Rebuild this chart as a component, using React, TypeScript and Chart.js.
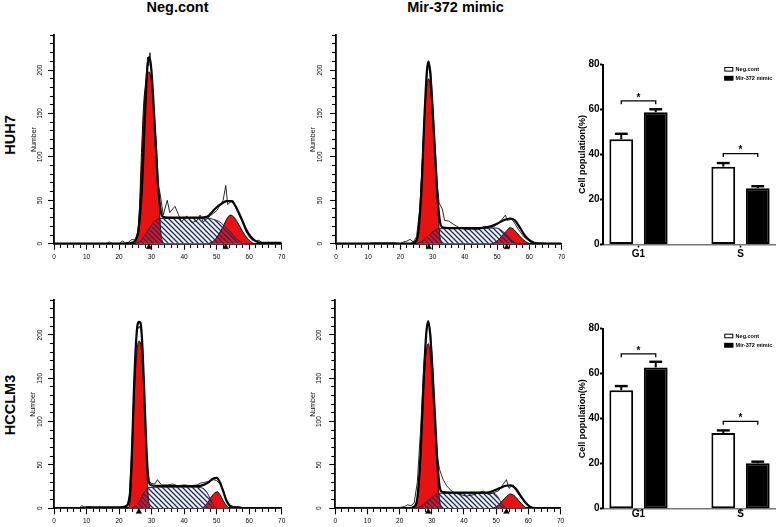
import React, { useEffect, useRef } from 'react';
import { Chart, registerables } from 'chart.js';

Chart.register(...registerables);
Chart.defaults.font.family = 'Arial, "Liberation Sans", sans-serif';

type Pt = [number, number];

// ---------- Flow cytometry histograms (x: DNA content channel, y: Number) ----------
const HIST_X_LABELS = [0, 10, 20, 30, 40, 50, 60, 70];
const HIST_Y_LABELS = [0, 50, 100, 150, 200];

// HUH7 - Neg.cont
const HUH7_NEG_RAW: Pt[] = [[8,0],[16,0],[17,2],[18,0],[20,0],[21,3],[22,1],[23,2],[24,5],[25,4],[25.8,15],[26.6,55],[27.4,120],[28.2,185],[28.8,215],[29.1,205],[29.5,220],[30,200],[30.6,160],[31.2,110],[31.8,72],[32.6,58],[33.6,33],[34.8,50],[35.6,36],[37.2,43],[38.2,34],[39.2,25],[40.8,32],[42.4,24],[44,27],[44.9,33],[45.9,25],[48,32],[50,38],[52,50],[52.8,67],[53.4,45],[54.2,48],[55,50],[56,40],[57,32],[58,24],[59,14],[60,8],[61,4],[62,3],[63,4],[64,1],[66,0],[70,0]];
const HUH7_NEG_FIT: Pt[] = [[0,0],[22,0],[24,1],[25,4],[26,16],[27,62],[28,150],[28.6,198],[29.2,215],[29.8,205],[30.5,168],[31.3,112],[32,66],[32.8,38],[33.5,31],[35,30],[40,30],[45,30],[47,31],[48.5,36],[50,42],[51.5,46],[53,49],[54.5,49],[56,42],[57.5,30],[59,17],[60.5,8],[62,3],[64,1],[70,1]];
const HUH7_NEG_G1: Pt[] = [[24.6,0],[25.3,4],[26.1,28],[26.9,105],[27.6,162],[28.4,190],[29.2,198],[30,184],[30.8,148],[31.6,105],[32.3,50],[32.8,15],[33.3,3],[34,0]];
const HUH7_NEG_S: Pt[] = [[25,0],[26.5,3],[28,10],[29.5,19],[31,26],[32.5,29],[40,29.5],[47,29.5],[49,28],[51,25],[53,18],[55,10],[56.5,4],[58,0]];
const HUH7_NEG_G2: Pt[] = [[47.5,0],[49,3],[50.5,10],[52,20],[53.2,29],[54.2,33],[55.2,31],[56.5,24],[58,14],[59.5,6],[61,1],[62,0]];
const HUH7_NEG_MARKS = [29.2, 52.8];

// HUH7 - Mir-372 mimic
const HUH7_MIMIC_RAW: Pt[] = [[10,0],[11,1],[15,1],[18,1],[20,0],[21,2],[22,3],[23,5],[24,2],[25,8],[26,40],[27,110],[28,185],[28.8,210],[29.4,200],[30,160],[30.8,110],[31.5,65],[32,47],[33,40],[33.7,27],[35,26],[36.6,22],[38,19],[40.6,16],[42,17],[44,16],[46,20],[48.7,19],[50.9,25],[52.6,33],[53.1,27],[54.6,28],[55.2,25],[56.7,16],[58.3,8],[60.3,2],[62,1],[64,1],[66,0],[70,0]];
const HUH7_MIMIC_FIT: Pt[] = [[0,0],[23,0],[24.5,2],[25.5,12],[26.5,60],[27.5,150],[28.2,198],[28.7,210],[29.3,195],[30,155],[30.8,100],[31.6,50],[32.3,25],[33,19],[35,18],[40,18],[45,18],[48,20],[50,23],[52,27],[54,29],[55.5,27],[57,19],[58.5,10],[60,4],[61.5,1],[63,0],[70,0]];
const HUH7_MIMIC_G1: Pt[] = [[24.3,0],[25,3],[25.8,25],[26.6,80],[27.5,150],[28.2,182],[28.7,190],[29.3,180],[30,145],[30.8,95],[31.6,40],[32.2,10],[32.8,0]];
const HUH7_MIMIC_S: Pt[] = [[25,0],[26.5,2],[28,7],[29.5,12],[31,16],[32.3,17.5],[40,18],[50,18],[51.5,15],[53,10],[54.5,4],[56,0]];
const HUH7_MIMIC_G2: Pt[] = [[48.5,0],[50,3],[51.5,9],[53,15],[54,18.5],[55,17],[56.5,11],[58,5],[59.5,1],[60.5,0]];
const HUH7_MIMIC_MARKS = [28.8, 53];

// HCCLM3 - Neg.cont
const HCCLM3_NEG_RAW: Pt[] = [[7,0],[8,1],[8.5,3],[9.5,1],[11,2],[12,1],[15,0],[18,1],[20,1],[21.5,2],[22.5,4],[23.2,15],[24,75],[24.8,160],[25.5,205],[26.2,210],[26.8,205],[27.4,165],[28,105],[28.6,50],[29.2,32],[29.8,29],[31,28],[31.8,33],[33,27],[35,27],[36.5,28],[38,26],[40,27],[42,26],[44,27],[45,29],[46.4,30],[47.5,31],[49,33],[50,32],[51,28],[52,20],[53,10],[54,4],[55,2],[57,1],[60,0],[70,0]];
const HCCLM3_NEG_FIT: Pt[] = [[0,0],[8,0],[10,1],[20,1],[22,2],[22.8,5],[23.4,20],[24,70],[24.6,140],[25.2,190],[25.7,212],[26.2,215],[26.7,212],[27.2,185],[27.8,130],[28.4,70],[29,35],[29.6,27],[31,26],[35,25.5],[40,25.5],[44,25.5],[46,27],[47.5,30],[49,34.5],[50,35],[51,30],[52,20],[53,9],[54,3],[55,1.5],[57,1],[58,0],[70,0]];
const HCCLM3_NEG_G1: Pt[] = [[22.6,0],[23.2,4],[23.8,30],[24.4,102],[25,155],[25.6,185],[26.2,193],[26.8,185],[27.4,150],[28,102],[28.6,40],[29,12],[29.5,0]];
const HCCLM3_NEG_S: Pt[] = [[24,0],[25,2],[26,6],[27,13],[28,20],[29,24],[35,24.5],[42,24.5],[45,24],[46.5,21],[47.5,15],[48.5,7],[49.5,1],[50,0]];
const HCCLM3_NEG_G2: Pt[] = [[45.5,0],[46.5,3],[47.5,8],[48.5,14],[49.5,18],[50.2,19],[51,16],[52,9],[53,3],[54,0]];
const HCCLM3_NEG_MARKS = [26.1];

// HCCLM3 - Mir-372 mimic
const HCCLM3_MIMIC_RAW: Pt[] = [[7,0],[8,1],[12,1],[16,1],[20,1],[21.5,2],[22.5,4],[23.5,3],[24.5,6],[25.5,30],[26.5,90],[27.5,165],[28.4,205],[29,215],[29.6,205],[30.3,160],[31,100],[31.7,60],[32.4,45],[33.4,34],[34.6,26],[36.1,20],[37.7,17],[40.8,14],[43.4,16],[46,20],[47.6,16],[50.7,20],[53.2,33],[54,23],[55.3,27],[56.8,17],[58.4,9],[60.5,2],[62,1],[65,0],[70,0]];
const HCCLM3_MIMIC_FIT: Pt[] = [[0,0],[23,0],[24.5,2],[25.5,12],[26.5,62],[27.5,150],[28.3,203],[28.9,216],[29.5,200],[30.2,160],[31,105],[31.8,50],[32.5,24],[33.2,19],[36,18],[42,18],[47,18],[49,20],[51,23],[53,26],[54.5,26.5],[56,23],[57.5,15],[59,7],[60.5,2],[62,0],[70,0]];
const HCCLM3_MIMIC_G1: Pt[] = [[24.5,0],[25.2,4],[26,28],[26.8,85],[27.6,150],[28.3,182],[28.9,190],[29.5,178],[30.2,140],[31,90],[31.8,38],[32.4,10],[33,0]];
const HCCLM3_MIMIC_S: Pt[] = [[25,0],[26.5,2],[28,6],[29.5,11],[31,15],[32.5,17.3],[40,17.5],[49,17.5],[50.2,15],[51.2,9],[52.2,3],[53,0]];
const HCCLM3_MIMIC_G2: Pt[] = [[49,0],[50.5,3],[52,9],[53.3,14],[54.5,16.5],[55.5,15],[57,9],[58.5,3],[59.5,0]];
const HCCLM3_MIMIC_MARKS = [28.9, 53.2];

// ---------- Bar charts (cell population %) ----------
const PHASES = ['G1', 'S'];
const GROUPS = ['Neg.cont', 'Mir-372 mimic'];
const BAR_Y_LABELS = [0, 20, 40, 60, 80];
const HUH7_NEG_PCT = [46.8, 34.6];
const HUH7_NEG_SEM = [2.4, 1.6];
const HUH7_MIMIC_PCT = [58.8, 25.0];
const HUH7_MIMIC_SEM = [1.3, 0.9];
const HUH7_SIG_AT = [63.8, 40.4];
const HCCLM3_NEG_PCT = [52.7, 33.6];
const HCCLM3_NEG_SEM = [1.8, 1.2];
const HCCLM3_MIMIC_PCT = [62.8, 20.2];
const HCCLM3_MIMIC_SEM = [2.5, 0.7];
const HCCLM3_SIG_AT = [68.8, 38.8];

// ---------- styling ----------
const RED = '#e81212';
const S_BG = '#f1f5fb';
const Y_AXIS_W = 34;
const BAR_Y_W = 33;

function makeHatch(): any {
  const c = document.createElement('canvas');
  c.width = 5;
  c.height = 5;
  const g = c.getContext('2d');
  if (!g) return '#9aa';
  g.strokeStyle = '#1d2a66';
  g.lineWidth = 1.25;
  g.beginPath();
  g.moveTo(-1, -1); g.lineTo(6, 6);
  g.moveTo(-1, 4); g.lineTo(1, 6);
  g.moveTo(4, -1); g.lineTo(6, 1);
  g.stroke();
  return g.createPattern(c, 'repeat');
}

function Histogram(props: any) {
  const { box, area, raw, fit, g1, s, g2, marks, numberX, labelPad } = props;
  const ref = useRef<HTMLCanvasElement>(null);
  useEffect(() => {
    const canvas = ref.current;
    if (!canvas) return;
    const hatch = makeHatch();
    const xy = (a: Pt[]) => a.map(([x, y]) => ({ x, y }));
    const smooth = { pointRadius: 0, cubicInterpolationMode: 'monotone' };
    const scaleLeft = area.left - Y_AXIS_W;
    const isMinorY = (c: any) => !(c.tick && c.tick.value % 50 === 0);
    const isMinorX = (c: any) => !(c.tick && HIST_X_LABELS.includes(c.tick.value));
    const chart = new Chart(canvas, {
      type: 'line',
      data: {
        datasets: [
          { label: 'S phase', data: xy(s), fill: 'origin', backgroundColor: S_BG, borderColor: 'rgba(0,0,0,0)', borderWidth: 0, order: 7, ...smooth },
          { label: 'G0/G1', data: xy(g1), fill: 'origin', backgroundColor: RED, borderColor: '#220000', borderWidth: 1, order: 6, ...smooth },
          { label: 'G2/M', data: xy(g2), fill: 'origin', backgroundColor: RED, borderColor: '#220000', borderWidth: 1, order: 5, ...smooth },
          { label: 'S phase hatch', data: xy(s), fill: 'origin', backgroundColor: hatch, borderColor: '#1b2452', borderWidth: 1, order: 4, ...smooth },
          { label: 'Model', data: xy(fit), fill: false, borderColor: '#000', borderWidth: 2.2, order: 3, ...smooth },
          { label: 'Data', data: xy(raw), fill: false, borderColor: '#111', borderWidth: 0.9, tension: 0, pointRadius: 0, order: 2 },
          { label: 'Peak', data: marks.map((x: number) => ({ x, y: -4 })), showLine: false, pointStyle: 'triangle', pointRadius: 3.2, pointHoverRadius: 4, backgroundColor: '#000', borderColor: '#000', pointBorderWidth: 0.5, clip: false, order: 1 },
        ],
      } as any,
      options: {
        responsive: false,
        animation: false,
        events: [],
        layout: {
          padding: {
            left: scaleLeft - box.left,
            top: area.top - box.top,
            right: box.left + box.width - area.right,
            bottom: 0,
          },
        },
        plugins: { legend: { display: false }, tooltip: { enabled: false } },
        scales: {
          x: {
            type: 'linear',
            min: 0,
            max: 70,
            afterFit: (sc: any) => { sc.height = box.top + box.height - area.bottom; },
            ticks: {
              stepSize: 2,
              autoSkip: false,
              maxRotation: 0,
              minRotation: 0,
              padding: 3.5,
              color: '#000',
              font: { size: 6.5 },
              callback: (v: any) => (HIST_X_LABELS.includes(v) ? String(v) : ''),
            },
            grid: {
              display: true,
              drawOnChartArea: false,
              drawTicks: true,
              tickLength: 6,
              tickColor: '#000',
              tickWidth: 1.1,
              tickBorderDash: (c: any) => (isMinorX(c) ? [3.2, 50] : []),
            },
            border: { display: true, color: '#000', width: 1.8 },
          },
          y: {
            min: 0,
            max: 240,
            afterFit: (sc: any) => { sc.width = Y_AXIS_W; },
            ticks: {
              stepSize: 10,
              autoSkip: false,
              minRotation: 90,
              maxRotation: 90,
              crossAlign: 'center',
              padding: labelPad,
              color: '#000',
              font: { size: 6.5 },
              callback: (v: any) => (HIST_Y_LABELS.includes(v) ? String(v) : ''),
            },
            grid: {
              display: true,
              drawOnChartArea: false,
              drawTicks: true,
              tickLength: 6,
              tickColor: '#000',
              tickWidth: 1.1,
              tickBorderDash: (c: any) => (isMinorY(c) ? [3.2, 2] : []),
              tickBorderDashOffset: (c: any) => (isMinorY(c) ? 3.2 : 0),
            },
            border: { display: true, color: '#000', width: 1.8 },
            title: {
              display: true,
              text: 'Number',
              color: '#000',
              font: { size: 7 },
              padding: { top: numberX - scaleLeft - 4.2, bottom: 0 },
            },
          },
        },
      } as any,
    });
    return () => chart.destroy();
  }, []);
  return (
    <canvas
      ref={ref}
      width={box.width}
      height={box.height}
      style={{ position: 'absolute', left: box.left, top: box.top, width: box.width, height: box.height }}
    />
  );
}

const barExtras = {
  id: 'barExtras',
  afterDatasetsDraw(chart: any, _args: any, opts: any) {
    const { ctx, chartArea } = chart;
    const ys = chart.scales.y;
    ctx.save();
    ctx.strokeStyle = '#000';
    ctx.fillStyle = '#000';
    // error bars (upper only)
    chart.data.datasets.forEach((ds: any, di: number) => {
      const meta = chart.getDatasetMeta(di);
      meta.data.forEach((bar: any, i: number) => {
        const v = ds.data[i].y;
        const e = opts.errors[di][i];
        const top = ys.getPixelForValue(v);
        const tip = ys.getPixelForValue(v + e);
        const half = bar.width * 0.27;
        ctx.lineWidth = 2;
        ctx.beginPath();
        ctx.moveTo(bar.x, top);
        ctx.lineTo(bar.x, tip);
        ctx.stroke();
        ctx.lineWidth = 2.4;
        ctx.beginPath();
        ctx.moveTo(bar.x - half, tip);
        ctx.lineTo(bar.x + half, tip);
        ctx.stroke();
      });
    });
    // significance brackets
    const m0 = chart.getDatasetMeta(0);
    const m1 = chart.getDatasetMeta(1);
    opts.sig.forEach((sv: number, i: number) => {
      const a = m0.data[i].x;
      const b = m1.data[i].x;
      const py = ys.getPixelForValue(sv);
      ctx.lineWidth = 1.3;
      ctx.beginPath();
      ctx.moveTo(a, py + 3.3);
      ctx.lineTo(a, py);
      ctx.lineTo(b, py);
      ctx.lineTo(b, py + 3.3);
      ctx.stroke();
      ctx.font = 'bold 10px Arial';
      ctx.textAlign = 'center';
      ctx.textBaseline = 'middle';
      ctx.fillText('*', (a + b) / 2, py - 3);
    });
    // legend
    const lx = chartArea.right + opts.legendDx;
    chart.data.datasets.forEach((ds: any, di: number) => {
      const cy = chartArea.top + opts.legendDy[di];
      ctx.fillStyle = ds.backgroundColor;
      ctx.fillRect(lx, cy - 2.3, 9, 4.6);
      ctx.lineWidth = 1;
      ctx.strokeStyle = '#000';
      ctx.strokeRect(lx + 0.5, cy - 1.8, 8, 3.6);
      ctx.fillStyle = '#000';
      ctx.font = 'bold 5.5px Arial';
      ctx.textAlign = 'left';
      ctx.textBaseline = 'middle';
      ctx.fillText(ds.label, lx + 11.3, cy);
    });
    ctx.restore();
  },
};

function BarPanel(props: any) {
  const { box, area, neg, negErr, mim, mimErr, sig, legendDy, xPad } = props;
  const ref = useRef<HTMLCanvasElement>(null);
  useEffect(() => {
    const canvas = ref.current;
    if (!canvas) return;
    const barStyle = { borderColor: '#000', borderWidth: 2, borderSkipped: false, barPercentage: 0.69, categoryPercentage: 0.676 };
    const chart = new Chart(canvas, {
      type: 'bar',
      data: {
        datasets: [
          { label: GROUPS[0], data: PHASES.map((_, i) => ({ x: i + 1, y: neg[i] })), backgroundColor: '#ffffff', ...barStyle },
          { label: GROUPS[1], data: PHASES.map((_, i) => ({ x: i + 1, y: mim[i] })), backgroundColor: '#000000', ...barStyle },
        ],
      } as any,
      options: {
        responsive: false,
        animation: false,
        events: [],
        layout: {
          padding: {
            left: area.left - box.left - BAR_Y_W,
            top: area.top - box.top,
            right: box.left + box.width - area.right,
            bottom: 0,
          },
        },
        plugins: {
          legend: { display: false },
          tooltip: { enabled: false },
          barExtras: { errors: [negErr, mimErr], sig, legendDx: -50.7, legendDy },
        },
        scales: {
          x: {
            type: 'linear',
            min: 0.652,
            max: 2.338,
            offset: false,
            afterBuildTicks: (sc: any) => { sc.ticks = PHASES.map((_, i) => ({ value: i + 1 })); },
            afterFit: (sc: any) => { sc.height = box.top + box.height - area.bottom; },
            ticks: {
              autoSkip: false,
              maxRotation: 0,
              minRotation: 0,
              padding: xPad,
              color: '#000',
              font: { family: '"Liberation Sans Narrow", "Arial Narrow", Arial', size: 10, weight: 'bold' },
              callback: (v: any) => PHASES[Math.round(v) - 1] ?? '',
            },
            grid: { display: true, drawOnChartArea: false, offset: false, tickLength: 3, tickColor: '#000', tickWidth: 1.5 },
            border: { display: true, color: '#777', width: 1.5 },
          },
          y: {
            min: 0,
            max: 80,
            afterFit: (sc: any) => { sc.width = BAR_Y_W; },
            ticks: {
              stepSize: 20,
              autoSkip: false,
              padding: 0.5,
              color: '#000',
              font: { family: '"Liberation Sans Narrow", "Arial Narrow", Arial', size: 10, weight: 'bold' },
              callback: (v: any) => (BAR_Y_LABELS.includes(v) ? String(v) : ''),
            },
            grid: { display: true, drawOnChartArea: false, tickLength: 3, tickColor: '#000', tickWidth: 2 },
            border: { display: true, color: '#000', width: 2 },
            title: {
              display: true,
              text: 'Cell population(%)',
              color: '#000',
              font: { size: 9, weight: 'bold' },
              padding: { top: 7.6, bottom: 0 },
            },
          },
        },
      } as any,
      plugins: [barExtras as any],
    });
    return () => chart.destroy();
  }, []);
  return (
    <canvas
      ref={ref}
      width={box.width}
      height={box.height}
      style={{ position: 'absolute', left: box.left, top: box.top, width: box.width, height: box.height }}
    />
  );
}

const titleFont: React.CSSProperties = {
  position: 'absolute',
  fontFamily: 'Arial, "Liberation Sans", sans-serif',
  fontWeight: 'bold',
  fontSize: '14.5px',
  lineHeight: '16px',
  whiteSpace: 'nowrap',
  color: '#000',
};

export default function App() {
  return (
    <div style={{ position: 'absolute', left: 0, top: 0, width: 778, height: 527, background: '#fff', overflow: 'hidden' }}>
      <div style={{ ...titleFont, left: 177.5, top: -1, transform: 'translateX(-50%)' }}>Neg.cont</div>
      <div style={{ ...titleFont, left: 455.5, top: -1, transform: 'translateX(-50%)' }}>Mir-372 mimic</div>
      <div style={{ ...titleFont, left: 10, top: 135, transform: 'translate(-50%, -50%) rotate(-90deg)' }}>HUH7</div>
      <div style={{ ...titleFont, left: 10, top: 405, transform: 'translate(-50%, -50%) rotate(-90deg)' }}>HCCLM3</div>

      <Histogram
        box={{ left: 0, top: 20, width: 290, height: 250 }}
        area={{ left: 54, right: 281.7, top: 35.3, bottom: 243.7 }}
        raw={HUH7_NEG_RAW} fit={HUH7_NEG_FIT} g1={HUH7_NEG_G1} s={HUH7_NEG_S} g2={HUH7_NEG_G2} marks={HUH7_NEG_MARKS}
        numberX={34} labelPad={2.6}
      />
      <Histogram
        box={{ left: 290, top: 20, width: 280, height: 250 }}
        area={{ left: 336, right: 561.5, top: 35.3, bottom: 243.7 }}
        raw={HUH7_MIMIC_RAW} fit={HUH7_MIMIC_FIT} g1={HUH7_MIMIC_G1} s={HUH7_MIMIC_S} g2={HUH7_MIMIC_G2} marks={HUH7_MIMIC_MARKS}
        numberX={313.3} labelPad={4.6}
      />
      <Histogram
        box={{ left: 0, top: 280, width: 290, height: 247 }}
        area={{ left: 54, right: 281.7, top: 300.3, bottom: 508.3 }}
        raw={HCCLM3_NEG_RAW} fit={HCCLM3_NEG_FIT} g1={HCCLM3_NEG_G1} s={HCCLM3_NEG_S} g2={HCCLM3_NEG_G2} marks={HCCLM3_NEG_MARKS}
        numberX={33.3} labelPad={2.6}
      />
      <Histogram
        box={{ left: 290, top: 280, width: 280, height: 247 }}
        area={{ left: 335.3, right: 560.5, top: 300.3, bottom: 508.3 }}
        raw={HCCLM3_MIMIC_RAW} fit={HCCLM3_MIMIC_FIT} g1={HCCLM3_MIMIC_G1} s={HCCLM3_MIMIC_S} g2={HCCLM3_MIMIC_G2} marks={HCCLM3_MIMIC_MARKS}
        numberX={313.3} labelPad={4.6}
      />

      <BarPanel
        box={{ left: 570, top: 40, width: 208, height: 230 }}
        area={{ left: 603, right: 775, top: 64.5, bottom: 244.5 }}
        neg={HUH7_NEG_PCT} negErr={HUH7_NEG_SEM} mim={HUH7_MIMIC_PCT} mimErr={HUH7_MIMIC_SEM}
        sig={HUH7_SIG_AT} legendDy={[4.8, 13.7]} xPad={1}
      />
      <BarPanel
        box={{ left: 570, top: 300, width: 208, height: 227 }}
        area={{ left: 603, right: 775, top: 328.7, bottom: 508.7 }}
        neg={HCCLM3_NEG_PCT} negErr={HCCLM3_NEG_SEM} mim={HCCLM3_MIMIC_PCT} mimErr={HCCLM3_MIMIC_SEM}
        sig={HCCLM3_SIG_AT} legendDy={[7.3, 16.5]} xPad={-3}
      />
    </div>
  );
}
